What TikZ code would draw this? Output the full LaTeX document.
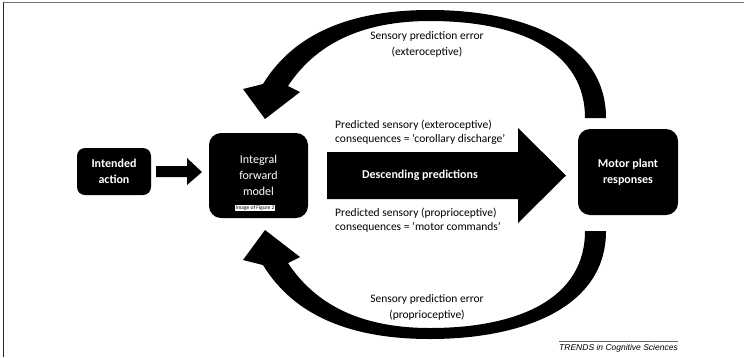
\documentclass[tikz,border=0pt]{standalone}
\usepackage{fontspec}
\setmainfont{Carlito}
\newfontfamily\arialfont{Liberation Sans}
\begin{document}
\begin{tikzpicture}[x=1pt,y=-1pt,
  blk/.style={fill=black, text=white, align=center, inner sep=0pt},
  boxfont/.style={font=\bfseries\fontsize{12}{16}\selectfont},
  lbl/.style={font=\fontsize{11.5}{14}\selectfont, align=left, anchor=north west, inner sep=0pt},
  errlbl/.style={font=\fontsize{11.5}{16}\selectfont, align=center, inner sep=0pt},
  bigarrow/.style={fill=black}
]
\useasboundingbox (0,0) rectangle (744,357);
\fill[white] (0,0) rectangle (744,357);
% frame
\draw[line width=1.5pt, black!55] (3,2.5) -- (744,2.5);
\draw[line width=1.2pt, black!85] (3.3,2) -- (3.3,357);

% boxes
\node[blk, boxfont, minimum width=74pt, minimum height=47pt, rounded corners=8pt] (intended) at (114,171.5) {Intended\\action};
\node[blk, font=\fontsize{12}{16}\selectfont, minimum width=99pt, minimum height=85pt, rounded corners=12pt] (integral) at (258.5,175.5) {Integral\\forward\\model};
\node[blk, boxfont, minimum width=100pt, minimum height=86pt, rounded corners=12pt] (motor) at (628,172) {Motor plant\\responses};
\node[draw=black, fill=white, line width=0.4pt, font=\fontsize{5.5}{6}\selectfont, inner sep=1pt] (img) at (255,208) {Image of Figure 2};

% small arrow
\fill[bigarrow] (156,166) -- (187,166) -- (187,158) -- (202,172) -- (187,185) -- (187,177) -- (156,177) -- cycle;

% big arrow
\fill[bigarrow] (327,152) -- (518,152) -- (518,128) -- (566,175.5) -- (518,223) -- (518,199) -- (327,199) -- cycle;
\node[font=\bfseries\fontsize{12}{14}\selectfont, text=white] (desc) at (420,175) {Descending predictions};

% labels
\node[lbl] (ext) at (335,119.5) {Predicted sensory (exteroceptive)\\consequences = ‘corollary discharge’};
\node[lbl] (prop) at (335,207.5) {Predicted sensory (proprioceptive)\\consequences = ‘motor commands’};

% top curved arrow
\fill[bigarrow] (606,118) .. controls (606,40) and (520,10) .. (430,10)
  .. controls (340,10) and (290,40) .. (263,84) -- (243,89) -- (265,119) -- (300,92) -- (288,86)
  .. controls (315,45) and (360,21) .. (430,21)
  .. controls (518,21) and (585,50) .. (585,118) -- cycle;
% bottom curved arrow (mirror)
\begin{scope}[shift={(0,349)}, yscale=-1]
\fill[bigarrow] (606,118) .. controls (606,40) and (520,10) .. (430,10)
  .. controls (340,10) and (290,40) .. (263,84) -- (243,89) -- (265,119) -- (300,92) -- (288,86)
  .. controls (315,45) and (360,21) .. (430,21)
  .. controls (518,21) and (585,50) .. (585,118) -- cycle;
\end{scope}

\node[errlbl] (errtop) at (427,44) {Sensory prediction error\\(exteroceptive)};
\node[errlbl] (errbot) at (427,307) {Sensory prediction error\\(proprioceptive)};

% credit
\node[font=\arialfont\itshape\fontsize{8.5}{10}\selectfont, anchor=base east, inner sep=0pt] (trends) at (678,350) {TRENDS in Cognitive Sciences};
\draw[line width=0.5pt, black!60] ([yshift=2.5pt]trends.north west) -- ([yshift=2.5pt]trends.north east);
\end{tikzpicture}
\end{document}
